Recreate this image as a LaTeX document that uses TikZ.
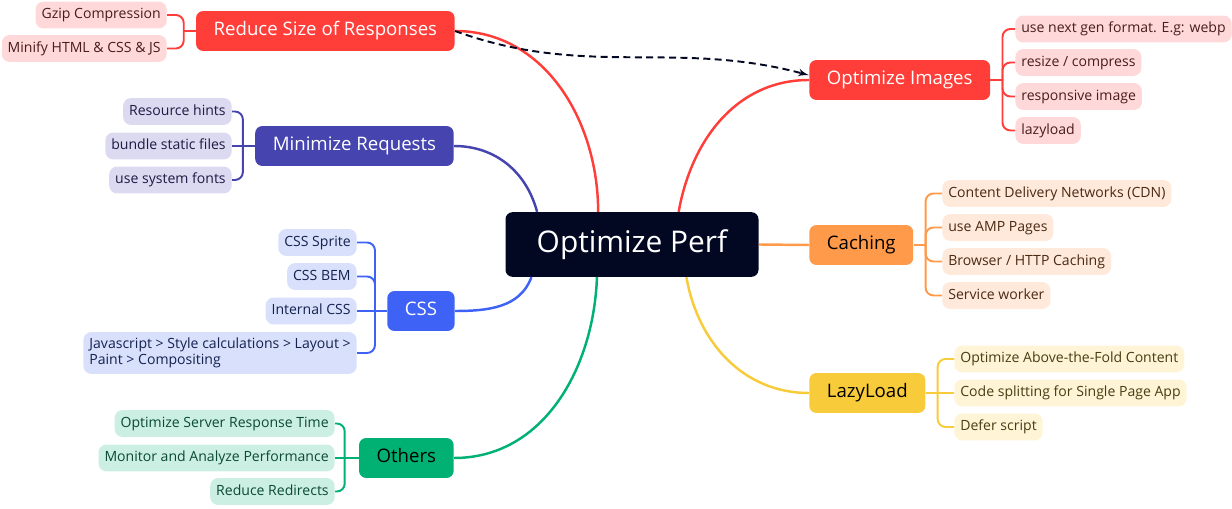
\documentclass[tikz,border=0pt]{standalone}
\usepackage{fontspec}
\setmainfont{Open Sans}
\usetikzlibrary{arrows}

\definecolor{perfnavy}{HTML}{020722}
\definecolor{redc}{HTML}{FF3E3A}
\definecolor{redl}{HTML}{FFD9D9}
\definecolor{redt}{HTML}{4A1C1C}
\definecolor{indc}{HTML}{4644AE}
\definecolor{indl}{HTML}{DCDAF0}
\definecolor{indt}{HTML}{1C1B45}
\definecolor{bluc}{HTML}{3D62F5}
\definecolor{blul}{HTML}{D8E0FC}
\definecolor{blut}{HTML}{14224F}
\definecolor{grnc}{HTML}{00B173}
\definecolor{grnl}{HTML}{CCEFE3}
\definecolor{grnt}{HTML}{0B4A34}
\definecolor{orac}{HTML}{FF9A4A}
\definecolor{oral}{HTML}{FFE9DA}
\definecolor{orat}{HTML}{4A2A14}
\definecolor{yelc}{HTML}{F7CB3A}
\definecolor{yell}{HTML}{FFF4D6}
\definecolor{yelt}{HTML}{4A3D14}

\begin{document}
\begin{tikzpicture}[x=0.02cm, y=-0.02cm]

\tikzset{root/.style = {fill=perfnavy, text=white, rounded corners=4pt, minimum width=144pt, minimum height=36.8pt, text height=12pt, text depth=3.4pt, font=\fontsize{17}{20}\selectfont}}
\tikzset{topic/.style = {rounded corners=4pt, minimum height=22.7pt, inner xsep=10pt, text height=7.6pt, text depth=2.2pt, font=\fontsize{10.6}{12.5}\selectfont}}
\tikzset{leafbox/.style = {rounded corners=4.5pt, inner xsep=3.4pt, font=\fontsize{8}{9.2}\selectfont}}
\tikzset{leaf/.style = {leafbox, minimum height=15.3pt, text height=6pt, text depth=1.8pt}}
\tikzset{branch/.style = {line width=1.4pt}}
\tikzset{bracket/.style = {line width=1.1pt, rounded corners=4.5pt}}
\tikzset{link/.style = {->, > = latex', dashed, dash pattern=on 4pt off 2.5pt, line width=1.1pt, perfnavy}}

\useasboundingbox (0,0) rectangle (1232,509);

%root
\node[root] (perf) at (632,244.5) {Optimize Perf};

%topics
\node[topic, anchor=east, fill=redc, text=white] (size) at (455,31) {Reduce Size of Responses};
\node[topic, anchor=east, fill=indc, text=white] (req) at (454,146) {Minimize Requests};
\node[topic, anchor=east, fill=bluc, text=white] (css) at (455,311) {CSS};
\node[topic, anchor=east, fill=grnc, text=black] (oth) at (454,458) {Others};
\node[topic, anchor=west, fill=redc, text=white] (img) at (809,80) {Optimize Images};
\node[topic, anchor=west, fill=orac, text=black] (cache) at (809,245) {Caching};
\node[topic, anchor=west, fill=yelc, text=black] (lazy) at (809,393) {LazyLoad};

%leaves
\node[leaf, anchor=east, fill=redl, text=redt] (gzip) at (167,15) {Gzip Compression};
\node[leaf, anchor=east, fill=redl, text=redt] (minify) at (167,48.5) {Minify HTML \& CSS \& JS};

\node[leaf, anchor=east, fill=indl, text=indt] (hints) at (232,111.5) {Resource hints};
\node[leaf, anchor=east, fill=indl, text=indt] (bundle) at (232,146) {bundle static files};
\node[leaf, anchor=east, fill=indl, text=indt] (fonts) at (232,180) {use system fonts};

\node[leaf, anchor=east, fill=blul, text=blut] (sprite) at (357,242.5) {CSS Sprite};
\node[leaf, anchor=east, fill=blul, text=blut] (bem) at (357,276.5) {CSS BEM};
\node[leaf, anchor=east, fill=blul, text=blut] (internal) at (357,311) {Internal CSS};
\node[leafbox, anchor=east, fill=blul, text=blut, minimum height=23.8pt, align=left] (pipe) at (357,353) {Javascript > Style calculations > Layout >\\Paint > Compositing};

\node[leaf, anchor=east, fill=grnl, text=grnt] (server) at (335,423.5) {Optimize Server Response Time};
\node[leaf, anchor=east, fill=grnl, text=grnt] (monitor) at (335,458) {Monitor and Analyze Performance};
\node[leaf, anchor=east, fill=grnl, text=grnt] (redirect) at (335,491.5) {Reduce Redirects};

\node[leaf, anchor=west, fill=redl, text=redt] (webp) at (1015,29) {use next gen format. E.g: webp};
\node[leaf, anchor=west, fill=redl, text=redt] (resize) at (1015,62.5) {resize / compress};
\node[leaf, anchor=west, fill=redl, text=redt] (resp) at (1015,96.5) {responsive image};
\node[leaf, anchor=west, fill=redl, text=redt] (lzimg) at (1015,130.5) {lazyload};

\node[leaf, anchor=west, fill=oral, text=orat] (cdn) at (942,193.5) {Content Delivery Networks (CDN)};
\node[leaf, anchor=west, fill=oral, text=orat] (amp) at (942,227.5) {use AMP Pages};
\node[leaf, anchor=west, fill=oral, text=orat] (http) at (942,261.5) {Browser / HTTP Caching};
\node[leaf, anchor=west, fill=oral, text=orat] (worker) at (942,295.5) {Service worker};

\node[leaf, anchor=west, fill=yell, text=yelt] (fold) at (954,359) {Optimize Above-the-Fold Content};
\node[leaf, anchor=west, fill=yell, text=yelt] (split) at (954,393) {Code splitting for Single Page App};
\node[leaf, anchor=west, fill=yell, text=yelt] (defer) at (954,427) {Defer script};

%branches
\draw[branch, redc] (perf.136) to[out=90, in=0] (size.east);
\draw[branch, indc] (perf.161) to[out=105, in=0] (req.east);
\draw[branch, bluc] (perf.198) to[out=250, in=0] (css.east);
\draw[branch, grnc] (perf.223) to[out=268, in=0] (oth.east);
\draw[branch, redc] (perf.35) to[out=80, in=180] (img.west);
\draw[branch, orac] (perf.east) -- (cache.west);
\draw[branch, yelc] (perf.-31.5) to[out=-80, in=180] (lazy.west);

%brackets
\path (size.west) ++(-12,0) coordinate (sizej);
\path (req.west) ++(-12,0) coordinate (reqj);
\path (css.west) ++(-12,0) coordinate (cssj);
\path (oth.west) ++(-14,0) coordinate (othj);
\path (img.east) ++(12,0) coordinate (imgj);
\path (cache.east) ++(12,0) coordinate (cachej);
\path (lazy.east) ++(12,0) coordinate (lazyj);

\draw[bracket, redc] (size.west) -- (sizej);
\foreach \c in {gzip, minify} \draw[bracket, redc] (sizej) |- (\c.east);
\draw[bracket, indc] (req.west) -- (reqj);
\foreach \c in {hints, fonts} \draw[bracket, indc] (reqj) |- (\c.east);
\draw[bracket, indc] (reqj) -- (bundle.east);
\draw[bracket, bluc] (css.west) -- (cssj);
\foreach \c in {sprite, bem, pipe} \draw[bracket, bluc] (cssj) |- (\c.east);
\draw[bracket, bluc] (cssj) -- (internal.east);
\draw[bracket, grnc] (oth.west) -- (othj);
\foreach \c in {server, redirect} \draw[bracket, grnc] (othj) |- (\c.east);
\draw[bracket, grnc] (othj) -- (monitor.east);
\draw[bracket, redc] (img.east) -- (imgj);
\foreach \c in {webp, resize, resp, lzimg} \draw[bracket, redc] (imgj) |- (\c.west);
\draw[bracket, orac] (cache.east) -- (cachej);
\foreach \c in {cdn, amp, http, worker} \draw[bracket, orac] (cachej) |- (\c.west);
\draw[bracket, yelc] (lazy.east) -- (lazyj);
\foreach \c in {fold, defer} \draw[bracket, yelc] (lazyj) |- (\c.west);
\draw[bracket, yelc] (lazyj) -- (split.west);

%link
\draw[link] (size.east) to[out=-20, in=165] (img.177);

\end{tikzpicture}
\end{document}
